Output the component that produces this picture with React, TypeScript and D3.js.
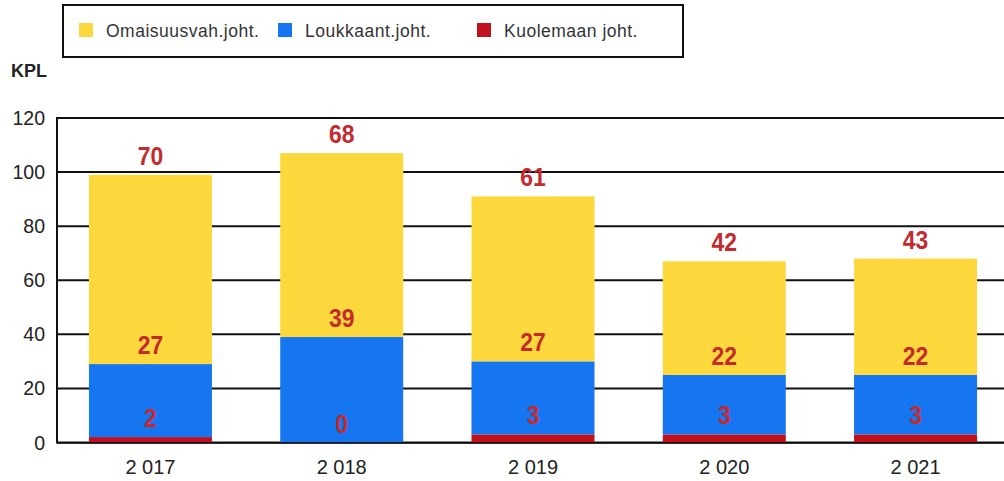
import React from "react";
import * as d3 from "d3";

const years = ["2 017", "2 018", "2 019", "2 020", "2 021"];
const kuolemaan = [2, 0, 3, 3, 3];
const loukkaant = [27, 39, 27, 22, 22];
const omaisuus = [70, 68, 61, 42, 43];
const yTicks = [0, 20, 40, 60, 80, 100, 120];

const seriesNames = ["Kuolemaan joht.", "Loukkaant.joht.", "Omaisuusvah.joht."];
const legendOrder = ["Omaisuusvah.joht.", "Loukkaant.joht.", "Kuolemaan joht."];
const colors: Record<string, string> = {
  "Kuolemaan joht.": "#C0101C",
  "Loukkaant.joht.": "#1675F0",
  "Omaisuusvah.joht.": "#FDD83C",
};

const W = 1004;
const H = 481;
const FONT = "'Liberation Sans', Arial, sans-serif";

export default function App() {
  const rows = years.map((y, i) => ({
    year: y,
    "Kuolemaan joht.": kuolemaan[i],
    "Loukkaant.joht.": loukkaant[i],
    "Omaisuusvah.joht.": omaisuus[i],
  }));
  const stack = d3.stack<any>().keys(seriesNames);
  const stacked = stack(rows);

  const x = d3
    .scaleBand<string>()
    .domain(years)
    .range([57, 1009])
    .paddingInner(0.357)
    .paddingOuter(0.167);
  const y = d3.scaleLinear().domain([0, 120]).range([442.5, 118]);

  const legendX = d3.scaleLinear().domain([0, 1]).range([79, 278]);

  return (
    <svg
      width={W}
      height={H}
      style={{ position: "absolute", left: 0, top: 0, background: "#fff" }}
      fontFamily={FONT}
    >
      {/* Legend */}
      <rect x={63} y={5} width={620} height={52} fill="#fff" stroke="#111" strokeWidth={2} />
      {legendOrder.map((name, i) => (
        <g key={name}>
          <rect x={legendX(i)} y={23} width={14} height={14} fill={colors[name]} />
          <text x={legendX(i) + 27} y={37} fontSize={17.5} letterSpacing={0.5} fill="#333">
            {name}
          </text>
        </g>
      ))}

      {/* Unit */}
      <text x={11} y={77} fontSize={18} fontWeight="bold" fill="#222">
        KPL
      </text>

      {/* Gridlines */}
      {yTicks.map((t) => (
        <g key={t}>
          <line x1={57} x2={W} y1={y(t)} y2={y(t)} stroke="#111" strokeWidth={2} />
          <text x={45} y={y(t) + 7} fontSize={19.5} textAnchor="end" fill="#222">
            {t}
          </text>
        </g>
      ))}
      <line x1={57} x2={57} y1={y(120) - 1} y2={y(0) + 1} stroke="#111" strokeWidth={2} />

      {/* Bars */}
      {stacked.map((s) => (
        <g key={s.key} fill={colors[s.key]}>
          {s.map((d, i) =>
            d[1] - d[0] > 0 ? (
              <rect
                key={i}
                x={x(years[i])}
                y={y(d[1])}
                width={x.bandwidth()}
                height={y(d[0]) - y(d[1])}
              />
            ) : null
          )}
        </g>
      ))}
      <line x1={57} x2={W} y1={y(0) + 0.5} y2={y(0) + 0.5} stroke="#111" strokeWidth={1.5} />

      {/* Data labels */}
      {stacked.map((s) => (
        <g key={s.key + "-lbl"}>
          {s.map((d, i) => {
            const cx = (x(years[i]) as number) + x.bandwidth() / 2;
            const cy = y(d[1]) - 10;
            return (
              <text
                key={i}
                transform={`translate(${cx},${cy}) scale(0.88,1)`}
                textAnchor="middle"
                fontSize={26}
                fontWeight="bold"
                fill="#C42A2E"
              >
                {d[1] - d[0]}
              </text>
            );
          })}
        </g>
      ))}

      {/* X labels */}
      {years.map((yr) => (
        <text
          key={yr}
          x={(x(yr) as number) + x.bandwidth() / 2}
          y={474}
          fontSize={20}
          textAnchor="middle"
          fill="#222"
        >
          {yr}
        </text>
      ))}
    </svg>
  );
}
